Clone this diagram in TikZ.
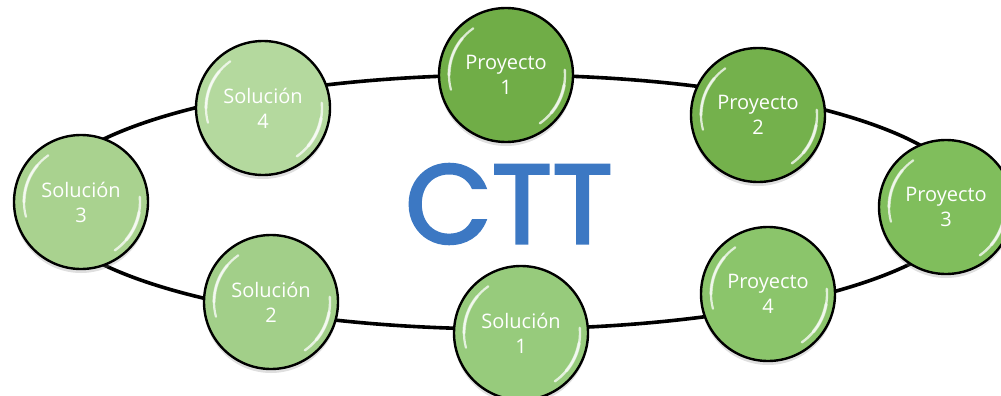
\documentclass[tikz,border=0pt]{standalone}
\usepackage{fontspec}
\newfontfamily\bubfont{Open Sans}
\newfontfamily\cttfont[FakeBold=2.5]{Poppins}
\usetikzlibrary{shadows}
\definecolor{gA}{HTML}{70AD47}
\definecolor{gB}{HTML}{74B14C}
\definecolor{gC}{HTML}{80BE5C}
\definecolor{gD}{HTML}{8BC56B}
\definecolor{gE}{HTML}{97CB7C}
\definecolor{gF}{HTML}{A2CF89}
\definecolor{gG}{HTML}{A9D28F}
\definecolor{gH}{HTML}{B4D99E}
\definecolor{cttblue}{HTML}{3C78C3}
\tikzset{
  bubble/.style={circle, draw=black, line width=2.4pt, minimum size=134pt, inner sep=0pt,
    text=white, align=center, font=\bubfont\fontsize{20}{25}\selectfont,
    drop shadow={opacity=0.25, shadow xshift=0pt, shadow yshift=-4pt}},
  hl/.style={white, opacity=0.75, line cap=round},
  orbit/.style={line width=3.6pt, black},
}
\newcommand\bub[5]{%
  \node[bubble, fill=#4] (#1) at (#2,#3) {#5};
  \draw[hl, line width=2.2pt] (#1.center) ++(125:57pt) arc[start angle=125, end angle=195, radius=57pt];
  \draw[hl, line width=3.2pt, opacity=0.5] (#1.center) ++(140:57pt) arc[start angle=140, end angle=180, radius=57pt];
  \draw[hl, line width=2.4pt] (#1.center) ++(-55:59pt) arc[start angle=-55, end angle=5, radius=59pt];
  \draw[hl, line width=3.4pt, opacity=0.55] (#1.center) ++(-40:59pt) arc[start angle=-40, end angle=-10, radius=59pt];
}
\begin{document}
\begin{tikzpicture}[x=1pt, y=-1pt]
\useasboundingbox (0,0) rectangle (1001,396);
\coordinate (orbitc) at (506,202);
\draw[orbit] (orbitc) ellipse [x radius=463pt, y radius=127pt];
\node[text=cttblue, font=\cttfont\fontsize{112}{112}\selectfont, inner sep=0pt] (ctt) at (509,204) {CTT};
\bub{p1}{506}{75}{gA}{Proyecto\\1}
\bub{p2}{758}{115}{gB}{Proyecto\\2}
\bub{p3}{946}{207}{gC}{Proyecto\\3}
\bub{p4}{768}{294}{gD}{Proyecto\\4}
\bub{s1}{521}{333}{gE}{Solución\\1}
\bub{s2}{271}{302}{gF}{Solución\\2}
\bub{s3}{81}{202}{gG}{Solución\\3}
\bub{s4}{263}{108}{gH}{Solución\\4}
\end{tikzpicture}
\end{document}
